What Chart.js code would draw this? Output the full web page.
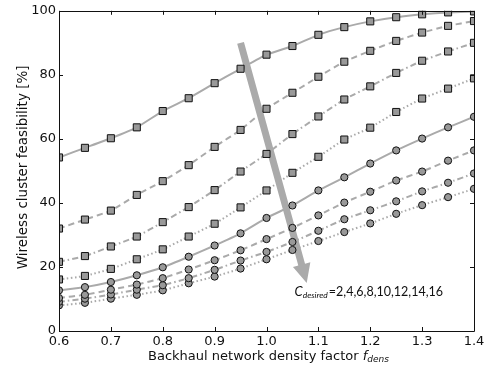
<!DOCTYPE html>
<html><head><meta charset="utf-8">
<script src="https://cdn.jsdelivr.net/npm/chart.js@4"></script>
<style>html,body{margin:0;padding:0;background:#fff}#wrap{width:492px;height:367px}</style>
</head><body><div id="wrap"><canvas id="c" width="492" height="367"></canvas></div>
<script>
// Backhaul network density factor f_dens
const densityFactor = [0.6,0.65,0.7,0.75,0.8,0.85,0.9,0.95,1.0,1.05,1.1,1.15,1.2,1.25,1.3,1.35,1.4];
// Wireless cluster feasibility [%] for C_desired = 2..16
const cDesired2  = [54.2,57.2,60.2,63.6,68.7,72.7,77.4,81.9,86.3,89.0,92.5,94.9,96.7,98.0,98.9,99.5,99.8];
const cDesired4  = [32.0,34.8,37.6,42.5,46.8,51.8,57.5,62.8,69.4,74.4,79.4,84.1,87.5,90.6,93.2,95.3,96.8];
const cDesired6  = [21.6,23.4,26.4,29.5,34.0,38.7,44.0,49.8,55.3,61.5,67.0,72.3,76.4,80.6,84.4,87.3,90.0];
const cDesired8  = [16.1,17.2,19.4,22.4,25.5,29.5,33.5,38.6,43.9,49.4,54.4,59.8,63.5,68.4,72.6,75.7,78.9];
const cDesired10 = [12.7,13.7,15.3,17.4,19.9,23.2,26.7,30.5,35.3,39.2,43.9,48.0,52.3,56.4,60.1,63.6,66.9];
const cDesired12 = [10.3,11.3,12.9,14.5,16.5,19.2,22.1,25.2,28.7,32.2,36.1,40.1,43.5,47.0,49.8,53.2,56.4];
const cDesired14 = [9.1,10.1,11.4,12.9,14.3,16.5,19.1,22.0,24.7,27.8,31.3,34.9,37.7,40.5,43.6,46.3,49.2];
const cDesired16 = [8.0,8.8,10.1,11.3,12.7,14.9,17.0,19.5,22.4,25.3,28.1,30.9,33.6,36.6,39.3,41.8,44.4];
const xTickValues = [0.6,0.7,0.8,0.9,1.0,1.1,1.2,1.3,1.4];
const yTickValues = [0,20,40,60,80,100];
const annotationLabel = '=2,4,6,8,10,12,14,16';
// arrow from/to in data coordinates
const arrowFrom = [0.95, 90];
const arrowTo = [1.0775, 15];
const annotationAt = [1.054, 11];

const seriesList = [cDesired2,cDesired4,cDesired6,cDesired8,cDesired10,cDesired12,cDesired14,cDesired16];
const dashes = [[], [6,4], [6,3,1.5,3], [1.5,2.5]];
const lineColor = '#aaaaaa';
const markerFill = '#999999';

const datasets = seriesList.map((vals, i) => ({
  label: 'C=' + (2*(i+1)),
  data: vals.map((v, k) => ({x: densityFactor[k], y: v})),
  borderColor: lineColor,
  borderWidth: 2,
  borderDash: dashes[i % 4],
  pointStyle: i < 4 ? 'rect' : 'circle',
  pointRadius: i < 4 ? 5 : 3.6,
  pointBackgroundColor: markerFill,
  pointBorderColor: '#111',
  pointBorderWidth: 1,
  fill: false,
  tension: 0.15,
  clip: 0
}));

const FONT = '"DejaVu Sans", sans-serif';

const decor = {
  id: 'decor',
  beforeDatasetsDraw(chart) {
    const {ctx, chartArea: a, scales: {x, y}} = chart;
    // arrow
    const x0 = x.getPixelForValue(arrowFrom[0]), y0 = y.getPixelForValue(arrowFrom[1]);
    const x1 = x.getPixelForValue(arrowTo[0]), y1 = y.getPixelForValue(arrowTo[1]);
    const dx = x1 - x0, dy = y1 - y0, L = Math.hypot(dx, dy);
    const ux = dx / L, uy = dy / L, nx = -uy, ny = ux;
    const sw = 3.5, hw = 9, hl = 19;
    const bx = x1 - ux * hl, by = y1 - uy * hl;
    ctx.save();
    ctx.fillStyle = '#aaaaaa';
    ctx.beginPath();
    ctx.moveTo(x0 + nx*sw, y0 + ny*sw);
    ctx.lineTo(bx + nx*sw, by + ny*sw);
    ctx.lineTo(bx + nx*hw, by + ny*hw);
    ctx.lineTo(x1, y1);
    ctx.lineTo(bx - nx*hw, by - ny*hw);
    ctx.lineTo(bx - nx*sw, by - ny*sw);
    ctx.lineTo(x0 - nx*sw, y0 - ny*sw);
    ctx.closePath();
    ctx.fill();
    ctx.restore();
  },
  afterDraw(chart) {
    const {ctx, chartArea: a, scales: {x, y}} = chart;
    ctx.save();
    ctx.strokeStyle = '#111';
    ctx.lineWidth = 1;
    ctx.beginPath();
    ctx.rect(Math.round(a.left) + 0.5, Math.round(a.top) + 0.5, Math.round(a.right - a.left), Math.round(a.bottom - a.top));
    ctx.stroke();
    // inward ticks
    ctx.beginPath();
    xTickValues.forEach(v => {
      const px = Math.round(x.getPixelForValue(v)) + 0.5;
      ctx.moveTo(px, a.bottom); ctx.lineTo(px, a.bottom - 4);
      ctx.moveTo(px, a.top); ctx.lineTo(px, a.top + 4);
    });
    yTickValues.forEach(v => {
      const py = Math.round(y.getPixelForValue(v)) + 0.5;
      ctx.moveTo(a.left, py); ctx.lineTo(a.left + 4, py);
      ctx.moveTo(a.right, py); ctx.lineTo(a.right - 4, py);
    });
    ctx.stroke();

    // annotation
    ctx.fillStyle = '#111';
    ctx.textBaseline = 'alphabetic';
    ctx.textAlign = 'left';
    let tx = x.getPixelForValue(annotationAt[0]);
    const ty = y.getPixelForValue(annotationAt[1]);
    ctx.font = 'italic 13px Lato, sans-serif';
    ctx.fillText('C', tx, ty);
    tx += ctx.measureText('C').width;
    ctx.font = 'italic 8.5px Lato, sans-serif';
    ctx.fillText('desired', tx, ty + 2);
    tx += ctx.measureText('desired').width + 1;
    ctx.font = '12.5px Lato, sans-serif';
    ctx.fillText(annotationLabel, tx, ty);

    // x title
    const xt = 'Backhaul network density factor ';
    ctx.font = '13px ' + FONT;
    const w1 = ctx.measureText(xt).width;
    ctx.font = 'italic 13px ' + FONT;
    const w2 = ctx.measureText('f').width;
    ctx.font = 'italic 9px ' + FONT;
    const w3 = ctx.measureText('dens').width;
    let sx = (a.left + a.right) / 2 - (w1 + w2 + w3) / 2 + 2;
    const by0 = 360;
    ctx.font = '13px ' + FONT;
    ctx.fillText(xt, sx, by0);
    sx += w1;
    ctx.font = 'italic 13px ' + FONT;
    ctx.fillText('f', sx, by0);
    sx += w2;
    ctx.font = 'italic 9px ' + FONT;
    ctx.fillText('dens', sx, by0 + 2);

    // y title
    ctx.translate(27, (a.top + a.bottom) / 2 - 3.5);
    ctx.rotate(-Math.PI / 2);
    ctx.textAlign = 'center';
    ctx.font = '13.5px ' + FONT;
    ctx.fillText('Wireless cluster feasibility [%]', 0, 0);
    ctx.restore();
  }
};

new Chart(document.getElementById('c'), {
  type: 'line',
  data: { datasets },
  options: {
    responsive: false,
    devicePixelRatio: 1,
    animation: false,
    layout: { padding: { left: 0, top: 9, right: 18, bottom: 0 } },
    plugins: { legend: { display: false }, tooltip: { enabled: false } },
    scales: {
      x: {
        type: 'linear', min: 0.6, max: 1.4,
        afterBuildTicks: s => { s.ticks = xTickValues.map(v => ({value: v})); },
        afterFit: s => { s.height = 36; },
        grid: { display: false, drawTicks: false },
        border: { display: false },
        ticks: { color: '#111', font: { family: FONT, size: 13 }, padding: 3, maxRotation: 0,
                 callback: v => Number(v).toFixed(1) }
      },
      y: {
        min: 0, max: 100,
        afterBuildTicks: s => { s.ticks = yTickValues.map(v => ({value: v})); },
        afterFit: s => { s.width = 59; },
        grid: { display: false, drawTicks: false },
        border: { display: false },
        ticks: { color: '#111', font: { family: FONT, size: 13 }, padding: 3,
                 callback: v => String(v) }
      }
    }
  },
  plugins: [decor]
});
</script>
</body></html>
